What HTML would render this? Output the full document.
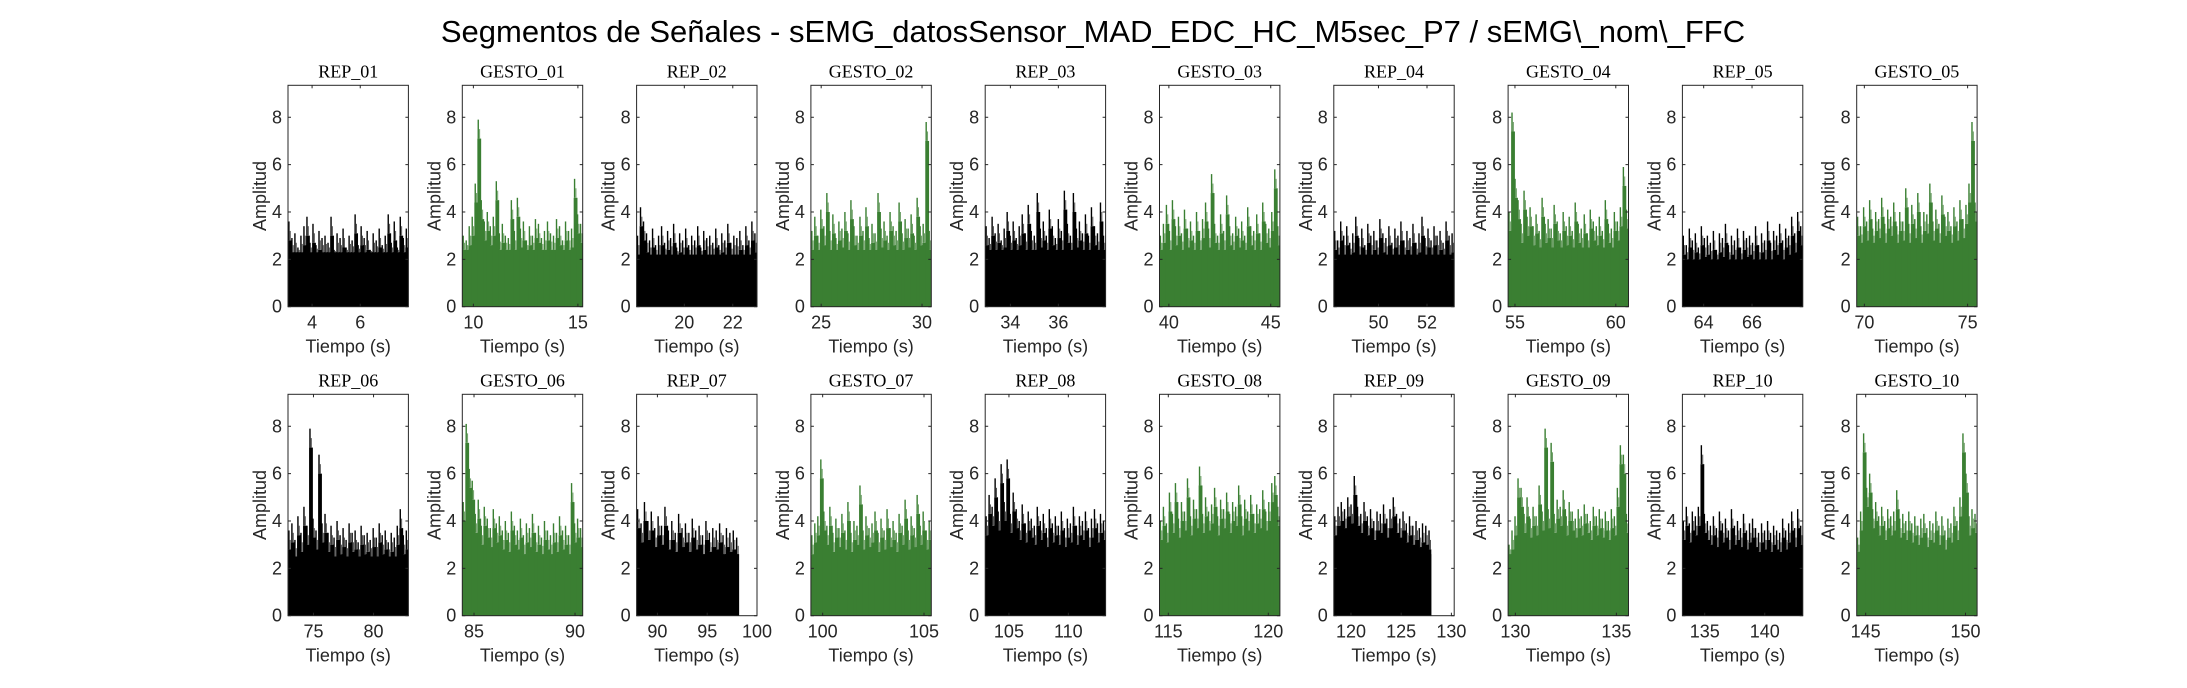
<!DOCTYPE html>
<html><head><meta charset="utf-8">
<style>
html,body{margin:0;padding:0;background:#fff;}
svg{display:block;}
</style></head>
<body>
<svg id="fig" width="2187" height="688" viewBox="0 0 2187 688" xmlns="http://www.w3.org/2000/svg">
<rect x="0" y="0" width="2187" height="688" fill="#fff"/>
<text x="1093" y="42" text-anchor="middle" font-family="Liberation Sans, sans-serif" font-size="31" fill="#000">Segmentos de Señales - sEMG_datosSensor_MAD_EDC_HC_M5sec_P7 / sEMG\_nom\_FFC</text>
<g id="panels"></g>
</svg>
<script>
const titles = ["REP_01","GESTO_01","REP_02","GESTO_02","REP_03","GESTO_03","REP_04","GESTO_04","REP_05","GESTO_05",
"REP_06","GESTO_06","REP_07","GESTO_07","REP_08","GESTO_08","REP_09","GESTO_09","REP_10","GESTO_10"];
const xMin = [3.0,9.47,18.03,24.49,32.95,39.54,48.16,54.66,63.12,69.63,72.88,84.42,87.91,99.42,103.0,114.56,118.29,129.64,133.14,144.55];
const xMax = [8.0,15.23,23.0,30.46,37.97,45.45,53.12,60.63,68.1,75.46,82.9,90.38,100.0,105.36,113.14,120.58,130.28,135.6,143.17,150.58];
const tStart = [3.0,9.47,18.03,24.49,32.95,39.54,48.16,54.66,63.12,69.63,72.88,84.42,87.91,99.42,103.0,114.56,118.29,129.64,133.14,144.55];
const tEnd = [8.0,15.23,23.0,30.46,37.97,45.45,53.12,60.63,68.1,75.46,82.9,90.38,98.2,105.36,113.14,120.58,128.0,135.6,143.17,150.58];
const xTicks = [[4,6],[10,15],[20,22],[25,30],[34,36],[40,45],[50,52],[55,60],[64,66],[70,75],
[75,80],[85,90],[90,95,100],[100,105],[105,110],[115,120],[120,125,130],[130,135],[135,140],[145,150]];
const yTicks = [0,2,4,6,8];
const baseLevel = [2.3,2.4,2.2,2.4,2.4,2.4,2.2,2.5,2.0,2.7,2.5,2.6,2.6,2.5,2.8,2.8,2.6,2.6,2.6,2.7];
const v0=[3.6,2.9,3.1,2.5,3.0,3.4,3.8,2.7,3.5,2.6,3.2,2.9,3.0,2.7,3.8,2.4,3.1,2.9,3.3,2.5,3.0,2.8,3.9,2.6,3.4,2.9,3.2,2.4,3.1,2.8,3.3,2.6,3.0,3.9,2.7,3.6,2.5,3.8,2.9,3.3];
const v1=[3.0,2.8,3.4,3.8,5.2,7.9,4.5,3.6,4.0,3.4,3.8,5.3,3.1,3.5,3.0,2.9,4.5,3.2,4.6,3.3,3.6,2.8,3.4,3.0,3.7,3.5,2.9,3.2,3.6,3.1,3.0,3.7,3.4,2.8,3.6,3.2,3.3,5.4,3.9,3.5];
const v2=[3.0,4.2,3.6,3.1,2.8,3.3,2.6,3.0,3.4,2.7,3.2,2.9,3.5,2.5,3.1,2.8,3.3,2.6,3.0,2.8,3.4,2.5,3.2,2.9,3.0,2.7,3.3,2.6,3.1,2.8,3.5,2.7,3.0,2.9,3.2,2.6,3.4,2.8,3.6,3.1];
const v3=[3.2,3.8,3.0,4.1,3.4,4.8,3.2,3.9,2.9,3.6,3.3,4.0,3.1,4.5,3.4,3.0,3.8,3.2,4.2,2.9,3.5,3.1,4.8,3.3,3.6,3.0,4.0,3.4,3.2,4.4,3.1,3.7,3.3,3.9,3.0,4.6,3.4,3.5,7.8,3.2];
const v4=[3.4,2.9,3.8,3.1,3.5,2.8,3.3,4.0,3.0,3.6,2.9,3.4,3.9,3.1,4.3,3.2,3.0,4.8,3.3,3.6,3.0,4.1,3.4,2.9,3.7,3.2,4.9,3.5,3.0,4.8,3.3,3.6,3.1,3.9,3.0,4.2,3.4,3.1,4.4,3.0];
const v5=[3.0,3.5,4.3,3.2,4.5,3.4,3.8,3.1,4.1,3.3,3.6,3.0,4.0,3.2,3.7,4.4,3.3,5.6,3.5,3.0,3.9,3.2,4.7,3.4,3.1,3.8,3.3,3.6,3.0,4.2,3.4,3.2,3.9,3.1,4.4,3.5,3.3,4.0,5.8,3.4];
const v6=[3.2,2.8,3.6,3.0,3.4,2.7,3.1,3.8,2.9,3.3,2.6,3.5,3.0,3.2,2.8,3.7,3.1,2.9,3.4,2.7,3.3,3.0,3.6,2.8,3.2,2.9,3.5,2.7,3.1,3.8,2.9,3.3,2.8,3.4,3.0,3.2,2.7,3.6,3.0,3.1];
const v7=[4.0,8.2,5.4,4.5,3.5,4.9,3.8,4.2,3.4,3.9,3.2,4.6,3.5,3.7,3.3,4.3,3.6,3.1,4.0,3.4,3.8,3.2,4.4,3.5,3.3,3.9,3.1,4.1,3.6,3.4,3.8,3.2,4.5,3.5,3.3,4.0,3.6,4.2,5.9,4.1];
const v8=[3.0,2.6,3.3,2.8,3.1,2.5,3.4,2.9,3.0,2.7,3.2,2.4,3.1,2.9,3.5,2.6,3.0,2.8,3.3,2.5,3.2,2.9,3.0,2.7,3.4,2.6,3.1,2.8,3.6,2.7,3.2,3.0,3.5,2.8,3.3,3.0,3.8,3.1,4.0,3.4];
const v9=[3.8,3.4,4.2,3.6,4.5,3.3,4.0,3.7,4.6,3.5,4.1,3.8,4.4,3.4,4.0,3.6,5.0,3.5,4.3,3.7,4.8,3.4,4.0,3.9,5.2,3.6,4.1,3.5,4.7,3.8,4.0,3.4,4.2,3.6,4.5,3.7,4.3,5.2,7.8,4.4];
const v10=[3.6,3.9,3.2,4.2,3.5,4.6,3.8,7.9,4.1,3.6,6.8,3.9,4.3,3.5,3.8,3.3,4.0,3.4,3.7,3.2,3.9,3.5,3.6,3.1,3.8,3.4,3.5,3.2,3.7,3.3,3.9,3.4,3.6,3.1,3.5,3.3,3.8,4.5,3.4,3.6];
const v11=[4.8,8.1,6.2,5.7,4.3,4.9,3.8,4.6,4.1,3.7,4.5,3.9,4.2,3.6,4.0,3.5,4.4,3.8,3.6,4.1,3.4,3.9,3.7,4.3,3.5,3.8,3.3,4.0,3.6,3.4,3.9,3.5,4.2,3.6,3.8,3.4,5.6,3.9,4.1,3.7];
const v12=[4.5,3.9,4.8,4.0,4.4,3.7,4.2,3.8,4.6,3.6,4.0,3.5,4.3,3.7,3.9,3.5,4.1,3.6,3.8,3.4,4.0,3.5,3.7,3.6,3.9,3.4,3.7,3.5,3.6,3.3];
const v13=[3.4,3.9,4.2,6.6,4.4,3.8,4.6,3.5,4.1,3.7,4.3,3.6,4.8,3.5,4.0,3.8,5.5,3.6,4.2,3.7,3.9,4.4,3.5,4.1,3.6,4.5,3.7,4.0,3.5,4.3,3.8,4.9,3.6,4.2,3.7,5.1,3.8,4.4,3.6,4.0];
const v14=[4.2,5.1,4.6,5.8,4.4,6.4,4.8,6.6,4.3,5.2,4.5,4.0,4.7,3.9,4.4,4.1,3.8,4.6,4.0,4.3,3.7,4.5,3.9,4.2,3.8,4.4,3.7,4.1,3.9,4.6,3.8,4.2,4.0,4.4,3.7,4.1,4.5,3.9,4.3,4.0];
const v15=[4.0,4.6,3.9,5.2,4.3,5.6,4.1,4.8,4.4,5.8,4.2,4.9,4.5,6.3,4.3,5.0,4.4,4.7,5.4,4.2,4.9,4.5,5.2,4.3,4.8,4.6,5.5,4.2,4.9,4.4,5.1,4.3,4.7,4.5,5.3,4.4,4.8,5.6,5.9,4.6];
const v16=[4.2,4.6,4.8,4.5,5.0,4.7,5.9,4.6,4.3,4.8,4.2,4.5,4.0,4.4,4.3,4.7,4.1,4.5,5.0,4.3,4.1,4.4,3.9,4.2,3.8,4.0,3.7,3.9,3.8,3.6];
const v17=[3.0,3.6,4.2,5.8,5.4,4.3,5.0,4.1,4.6,4.2,5.5,4.4,7.9,4.5,7.3,4.3,4.9,4.6,5.3,4.2,4.8,4.4,4.1,4.5,4.2,4.7,4.3,4.0,4.6,4.2,4.5,4.1,4.4,4.0,4.5,4.2,5.4,7.2,6.8,4.3];
const v18=[4.0,4.6,3.9,4.4,4.2,4.6,7.2,4.3,4.0,3.8,4.2,3.7,4.4,3.9,4.1,3.6,4.5,3.8,4.0,3.7,4.3,3.6,3.9,4.1,3.7,3.5,3.9,3.6,4.0,3.5,3.8,3.6,3.5,4.1,3.6,3.9,4.4,3.7,4.5,3.8];
const v19=[3.3,4.4,7.7,5.4,6.0,4.5,4.8,4.2,4.6,4.0,4.5,4.2,4.4,5.3,4.1,4.3,4.0,4.4,3.9,4.2,3.8,4.1,4.3,3.7,4.0,3.9,4.4,3.8,4.2,3.6,4.1,3.9,4.6,4.0,5.0,7.7,6.0,4.2,4.5,4.3];
const series=[v0,v1,v2,v3,v4,v5,v6,v7,v8,v9,v10,v11,v12,v13,v14,v15,v16,v17,v18,v19];

const NS="http://www.w3.org/2000/svg";
const root=document.getElementById('panels');
const yMax=9.35, W=120.4, H=221.4;
const rowTop=[85.3,394.3];
function mk(tag,attrs,parent){const e=document.createElementNS(NS,tag);for(const k in attrs)e.setAttribute(k,attrs[k]);(parent||root).appendChild(e);return e;}
for(let p=0;p<20;p++){
  const col=p%10,row=Math.floor(p/10);
  const L=288+col*174.3, T=rowTop[row], B=T+H;
  const isG=titles[p].startsWith('GESTO');
  const color=isG?'#3a7f32':'#000';
  const light=isG?'#6fa068':'#555';
  const g=mk('g',{});
  
  
  const xs=t=>L+(t-xMin[p])/(xMax[p]-xMin[p])*W;
  const ys=v=>B-v/yMax*H;
  const vals=series[p], n=vals.length;
  const dt=(tEnd[p]-tStart[p])/n;
  const x0=xs(tStart[p]), x1=xs(tEnd[p]);
  const base=mk('rect',{x:x0,y:ys(baseLevel[p]),width:x1-x0,height:B-ys(baseLevel[p]),fill:color},g);
  
  
  for(let i=0;i<n;i++){
    const xa=xs(tStart[p]+i*dt), xb=xs(tStart[p]+(i+1)*dt);
    const w=xb-xa;
    const v=vals[i];
    const mid=Math.max(baseLevel[p],v-0.8);
    const r=mk('rect',{x:xa,y:ys(mid),width:Math.min(w+0.8,x1-xa),height:B-ys(mid),fill:color},g);
    
    
    const s2=mk('line',{x1:xa+w*0.75,x2:xa+w*0.75,y1:ys(mid),y2:ys((v+mid)/2),stroke:light,'stroke-width':1},g);
    
    
    const s=mk('line',{x1:xa+w*0.3,x2:xa+w*0.3,y1:ys(mid),y2:ys(v),stroke:color,'stroke-width':1.4},g);
    
    
  }
  const box=mk('rect',{x:L,y:T,width:W,height:H,fill:'none',stroke:'#262626','stroke-width':1},g);
  
  
  for(const yt of yTicks){
    const y=ys(yt);
    mk('line',{x1:L,x2:L+3,y1:y,y2:y,stroke:'#262626'},g);
    mk('line',{x1:L+W-3,x2:L+W,y1:y,y2:y,stroke:'#262626'},g);
    const tl=mk('text',{x:L-6,y:y+6,'text-anchor':'end','font-family':'Liberation Sans, sans-serif','font-size':18,fill:'#262626'},g);
    tl.textContent=yt;
    
    
  }
  for(const xt of xTicks[p]){
    const x=xs(xt);
    mk('line',{x1:x,x2:x,y1:B,y2:B-3,stroke:'#262626'},g);
    mk('line',{x1:x,x2:x,y1:T,y2:T+3,stroke:'#262626'},g);
    const tl=mk('text',{x:x,y:B+22,'text-anchor':'middle','font-family':'Liberation Sans, sans-serif','font-size':18,fill:'#262626'},g);
    tl.textContent=xt;
    
    
  }
  const tt=mk('text',{x:L+W/2,y:T-8,'text-anchor':'middle','font-family':'Liberation Serif, serif','font-size':18,fill:'#000'},g);
  tt.textContent=titles[p];
  
  
  const xl=mk('text',{x:L+W/2,y:B+46,'text-anchor':'middle','font-family':'Liberation Sans, sans-serif','font-size':18,fill:'#262626'},g);
  xl.textContent='Tiempo (s)';
  
  
  const yl=mk('text',{x:0,y:0,'text-anchor':'middle','font-family':'Liberation Sans, sans-serif','font-size':18,fill:'#262626',transform:`translate(${L-22},${T+H/2}) rotate(-90)`},g);
  yl.textContent='Amplitud';
  
  
}
</script>
</body></html>
